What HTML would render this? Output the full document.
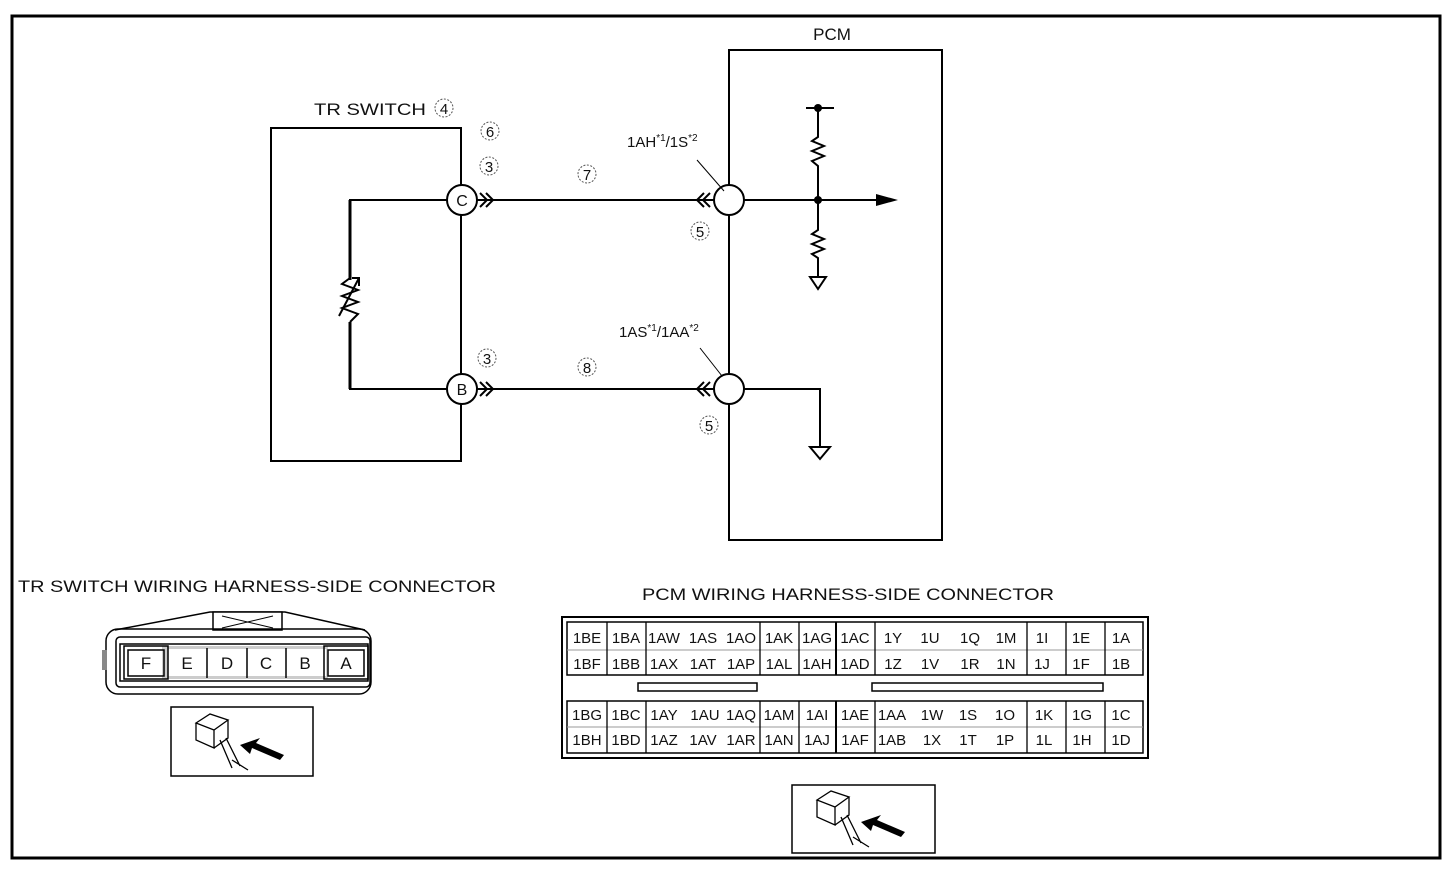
<!DOCTYPE html>
<html><head><meta charset="utf-8"><style>
html,body{margin:0;padding:0;background:#fff;}
svg{display:block;}
text{font-family:"Liberation Sans",Arial,sans-serif;fill:#111;}
</style></head><body>
<svg width="1454" height="870" viewBox="0 0 1454 870" xmlns="http://www.w3.org/2000/svg">
<rect x="12" y="16" width="1428" height="842" fill="none" stroke="#000" stroke-width="3"/>

<text x="832" y="40" font-size="17" text-anchor="middle">PCM</text>
<rect x="729" y="50" width="213" height="490" fill="none" stroke="#000" stroke-width="2"/>

<text x="314" y="115" font-size="17" textLength="112" lengthAdjust="spacingAndGlyphs">TR SWITCH</text>
<circle cx="444" cy="108" r="9" fill="none" stroke="#555" stroke-dasharray="2,1.5"/><text x="444" y="114" font-size="15" text-anchor="middle">4</text>
<polyline points="461,187 461,128 271,128 271,461 461,461 461,403" fill="none" stroke="#000" stroke-width="2"/>
<line x1="461" y1="214" x2="461" y2="375" stroke="#000" stroke-width="2"/>

<polyline points="447,200 350,200 350,389 447,389" fill="none" stroke="#000" stroke-width="2"/>
<line x1="350" y1="200" x2="350" y2="389" stroke="#000" stroke-width="3"/>
<rect x="340" y="280" width="20" height="42" fill="#fff"/>
<polyline points="350,278 342,284 358,290 342,296 358,302 342,308 358,314 350,322" fill="none" stroke="#000" stroke-width="2"/>
<line x1="339" y1="316" x2="359" y2="278" stroke="#000" stroke-width="2"/>
<polyline points="352,278 359,278 359,286" fill="none" stroke="#000" stroke-width="2"/>

<circle cx="462" cy="200" r="15" fill="#fff" stroke="#000" stroke-width="2"/>
<text x="462" y="206" font-size="16" text-anchor="middle">C</text>
<circle cx="462" cy="389" r="15" fill="#fff" stroke="#000" stroke-width="2"/>
<text x="462" y="395" font-size="16" text-anchor="middle">B</text>

<g fill="none" stroke="#000" stroke-width="2">
<polyline points="480,193 487,200 480,207"/><polyline points="486,193 493,200 486,207"/>
<polyline points="480,382 487,389 480,396"/><polyline points="486,382 493,389 486,396"/>
<polyline points="704,193 697,200 704,207"/><polyline points="710,193 703,200 710,207"/>
<polyline points="704,382 697,389 704,396"/><polyline points="710,382 703,389 710,396"/>
</g>
<line x1="477" y1="200" x2="714" y2="200" stroke="#000" stroke-width="2"/>
<line x1="477" y1="389" x2="714" y2="389" stroke="#000" stroke-width="2"/>
<circle cx="729" cy="200" r="15" fill="#fff" stroke="#000" stroke-width="2"/>
<circle cx="729" cy="389" r="15" fill="#fff" stroke="#000" stroke-width="2"/>

<line x1="744" y1="200" x2="882" y2="200" stroke="#000" stroke-width="2"/>
<polygon points="876,194 898,200 876,206" fill="#000"/>
<line x1="806" y1="108" x2="834" y2="108" stroke="#000" stroke-width="2"/>
<circle cx="818" cy="108" r="4" fill="#000"/>
<circle cx="818" cy="200" r="4" fill="#000"/>
<polyline points="818,108 818,137 812,141 824,146 812,151 824,156 812,161 818,166 818,230 812,234 824,239 812,244 824,249 812,254 818,258 818,276" fill="none" stroke="#000" stroke-width="2"/>
<polygon points="810,277 826,277 818,289" fill="none" stroke="#000" stroke-width="2"/>
<polyline points="744,389 820,389 820,446" fill="none" stroke="#000" stroke-width="2"/>
<polygon points="810,447 830,447 820,459" fill="none" stroke="#000" stroke-width="2"/>

<g font-size="15" text-anchor="middle">
<circle cx="490" cy="131" r="9" fill="none" stroke="#555" stroke-dasharray="2,1.5"/><text x="490" y="137">6</text>
<circle cx="489" cy="166" r="9" fill="none" stroke="#555" stroke-dasharray="2,1.5"/><text x="489" y="172">3</text>
<circle cx="587" cy="174" r="9" fill="none" stroke="#555" stroke-dasharray="2,1.5"/><text x="587" y="180">7</text>
<circle cx="700" cy="231" r="9" fill="none" stroke="#555" stroke-dasharray="2,1.5"/><text x="700" y="237">5</text>
<circle cx="487" cy="358" r="9" fill="none" stroke="#555" stroke-dasharray="2,1.5"/><text x="487" y="364">3</text>
<circle cx="587" cy="367" r="9" fill="none" stroke="#555" stroke-dasharray="2,1.5"/><text x="587" y="373">8</text>
<circle cx="709" cy="425" r="9" fill="none" stroke="#555" stroke-dasharray="2,1.5"/><text x="709" y="431">5</text>
</g>
<text x="627" y="147" font-size="15">1AH<tspan font-size="10" dy="-6">*1</tspan><tspan dy="6">/1S</tspan><tspan font-size="10" dy="-6">*2</tspan></text>
<line x1="697" y1="160" x2="724" y2="191" stroke="#000" stroke-width="1"/>
<text x="619" y="337" font-size="15">1AS<tspan font-size="10" dy="-6">*1</tspan><tspan dy="6">/1AA</tspan><tspan font-size="10" dy="-6">*2</tspan></text>
<line x1="700" y1="348" x2="722" y2="376" stroke="#000" stroke-width="1"/>

<text x="257" y="592" font-size="17" text-anchor="middle" textLength="478" lengthAdjust="spacingAndGlyphs">TR SWITCH WIRING HARNESS-SIDE CONNECTOR</text>
<polyline points="115,630 210,612 285,612 365,630" fill="none" stroke="#000" stroke-width="1.5"/>
<rect x="213" y="612" width="69" height="18" fill="#fff" stroke="#000" stroke-width="1.5"/>
<path d="M222,616 L273,628 M222,628 L273,616" stroke="#000" stroke-width="1"/>
<rect x="106" y="629" width="265" height="65" rx="12" fill="none" stroke="#000" stroke-width="1.5"/>
<rect x="116" y="637" width="254" height="50" rx="4" fill="none" stroke="#000" stroke-width="1.5"/>
<rect x="120" y="644" width="248" height="37" fill="none" stroke="#000" stroke-width="1.5"/>
<rect x="102" y="650" width="5" height="20" fill="#888"/>
<rect x="162" y="646" width="166" height="33" fill="#ccc"/>
<rect x="168" y="649" width="158" height="27" fill="#fff"/>
<g stroke="#000" stroke-width="1.5" fill="none">
<rect x="124" y="646" width="44" height="33"/><rect x="128" y="650" width="36" height="26"/>
<rect x="324" y="646" width="44" height="33"/><rect x="328" y="650" width="36" height="26"/>
<line x1="207" y1="648" x2="207" y2="678"/><line x1="247" y1="648" x2="247" y2="678"/><line x1="286" y1="648" x2="286" y2="678"/>
</g>
<g font-size="17" text-anchor="middle">
<text x="146" y="669">F</text><text x="187" y="669">E</text><text x="227" y="669">D</text><text x="266" y="669">C</text><text x="305" y="669">B</text><text x="346" y="669">A</text>
</g>
<rect x="171" y="707" width="142" height="69" fill="none" stroke="#000" stroke-width="1.5"/>
<g fill="none" stroke="#000" stroke-width="1.3">
<path d="M196,723 L210,714 L228,720 L214,730 Z M196,723 L196,740 L214,748 L214,730 M228,720 L228,738 L214,748"/>
<path d="M220,740 L232,768 M226,738 L240,766 M232,760 L248,770"/>
</g>
<polygon points="240,745 260,738 256,743 284,755 280,760 252,748 250,754" fill="#000"/>

<text x="848" y="600" font-size="17" text-anchor="middle" textLength="412" lengthAdjust="spacingAndGlyphs">PCM WIRING HARNESS-SIDE CONNECTOR</text>
<rect x="562" y="617" width="586" height="141" fill="none" stroke="#000" stroke-width="2"/>
<g fill="none" stroke="#000" stroke-width="1.5">
<rect x="567" y="622" width="576" height="53"/>
<rect x="567" y="701" width="576" height="52"/>
<rect x="638" y="683" width="119" height="8"/>
<rect x="872" y="683" width="231" height="8"/>
</g>
<g stroke="#000" stroke-width="1">
<line x1="567" y1="650" x2="1143" y2="650" stroke="#999"/>
<line x1="567" y1="727" x2="1143" y2="727" stroke="#999"/>
</g>
<g stroke="#000" stroke-width="1.3">
<line x1="607" y1="622" x2="607" y2="675"/><line x1="646" y1="622" x2="646" y2="675"/><line x1="760" y1="622" x2="760" y2="675"/><line x1="799" y1="622" x2="799" y2="675"/><line x1="836" y1="622" x2="836" y2="675" stroke-width="2"/><line x1="875" y1="622" x2="875" y2="675"/><line x1="1027" y1="622" x2="1027" y2="675"/><line x1="1066" y1="622" x2="1066" y2="675"/><line x1="1105" y1="622" x2="1105" y2="675"/>
<line x1="607" y1="701" x2="607" y2="753"/><line x1="646" y1="701" x2="646" y2="753"/><line x1="760" y1="701" x2="760" y2="753"/><line x1="799" y1="701" x2="799" y2="753"/><line x1="836" y1="701" x2="836" y2="753" stroke-width="2"/><line x1="875" y1="701" x2="875" y2="753"/><line x1="1027" y1="701" x2="1027" y2="753"/><line x1="1066" y1="701" x2="1066" y2="753"/><line x1="1105" y1="701" x2="1105" y2="753"/>
</g>
<g font-size="15" text-anchor="middle">
<text x="587" y="643">1BE</text><text x="626" y="643">1BA</text><text x="664" y="643">1AW</text><text x="703" y="643">1AS</text><text x="741" y="643">1AO</text><text x="779" y="643">1AK</text><text x="817" y="643">1AG</text><text x="855" y="643">1AC</text><text x="893" y="643">1Y</text><text x="930" y="643">1U</text><text x="970" y="643">1Q</text><text x="1006" y="643">1M</text><text x="1042" y="643">1I</text><text x="1081" y="643">1E</text><text x="1121" y="643">1A</text>
<text x="587" y="669">1BF</text><text x="626" y="669">1BB</text><text x="664" y="669">1AX</text><text x="703" y="669">1AT</text><text x="741" y="669">1AP</text><text x="779" y="669">1AL</text><text x="817" y="669">1AH</text><text x="855" y="669">1AD</text><text x="893" y="669">1Z</text><text x="930" y="669">1V</text><text x="970" y="669">1R</text><text x="1006" y="669">1N</text><text x="1042" y="669">1J</text><text x="1081" y="669">1F</text><text x="1121" y="669">1B</text>
<text x="587" y="720">1BG</text><text x="626" y="720">1BC</text><text x="664" y="720">1AY</text><text x="705" y="720">1AU</text><text x="741" y="720">1AQ</text><text x="779" y="720">1AM</text><text x="817" y="720">1AI</text><text x="855" y="720">1AE</text><text x="892" y="720">1AA</text><text x="932" y="720">1W</text><text x="968" y="720">1S</text><text x="1005" y="720">1O</text><text x="1044" y="720">1K</text><text x="1082" y="720">1G</text><text x="1121" y="720">1C</text>
<text x="587" y="745">1BH</text><text x="626" y="745">1BD</text><text x="664" y="745">1AZ</text><text x="703" y="745">1AV</text><text x="741" y="745">1AR</text><text x="779" y="745">1AN</text><text x="817" y="745">1AJ</text><text x="855" y="745">1AF</text><text x="892" y="745">1AB</text><text x="932" y="745">1X</text><text x="968" y="745">1T</text><text x="1005" y="745">1P</text><text x="1044" y="745">1L</text><text x="1082" y="745">1H</text><text x="1121" y="745">1D</text>
</g>
<rect x="792" y="785" width="143" height="68" fill="none" stroke="#000" stroke-width="1.5"/>
<g fill="none" stroke="#000" stroke-width="1.3">
<path d="M817,800 L831,791 L849,797 L835,807 Z M817,800 L817,817 L835,825 L835,807 M849,797 L849,815 L835,825"/>
<path d="M841,817 L853,845 M847,815 L861,843 M853,837 L869,847"/>
</g>
<polygon points="861,822 881,815 877,820 905,832 901,837 873,825 871,831" fill="#000"/>
</svg>
</body></html>
